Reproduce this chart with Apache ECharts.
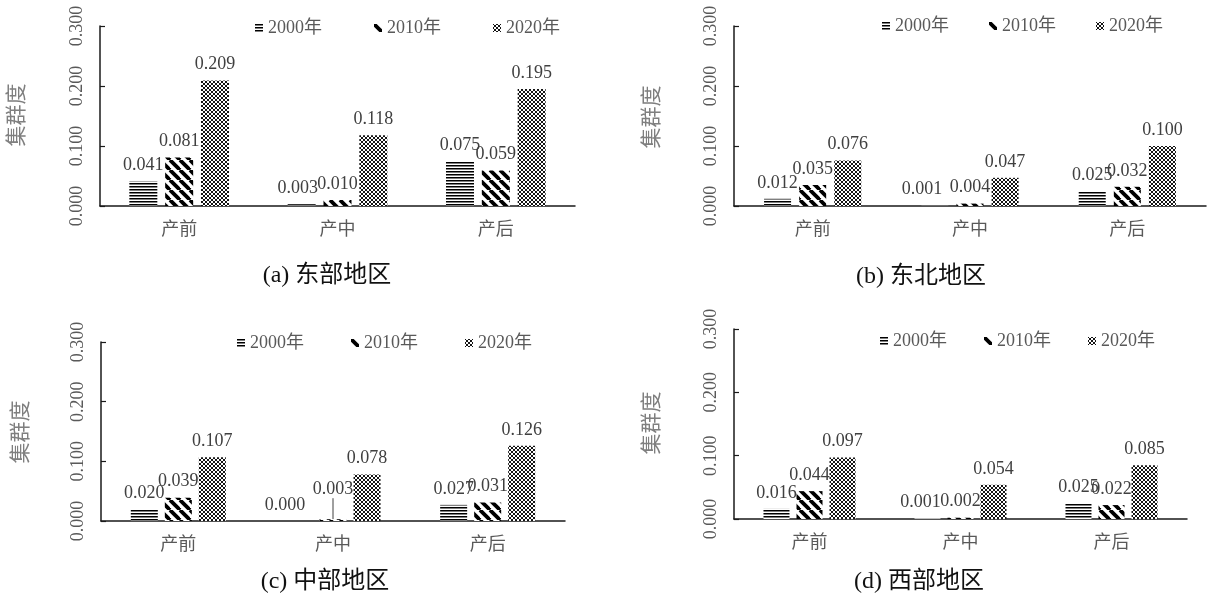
<!DOCTYPE html>
<html>
<head>
<meta charset="utf-8">
<script src="https://cdn.jsdelivr.net/npm/echarts@6/dist/echarts.min.js"></script>
<style>
  html, body { margin: 0; padding: 0; background: #fff; }
  #chart { width: 1207px; height: 598px; }
</style>
</head>
<body>
<div id="chart"></div>
<script>
// Categories, years and tick values
const categories = ['产前', '产中', '产后'];
const years = ['2000年', '2010年', '2020年'];
const yTicks = [0, 0.1, 0.2, 0.3];

// (a) 东部地区
const east2000 = [0.041, 0.003, 0.075];
const east2010 = [0.081, 0.010, 0.059];
const east2020 = [0.209, 0.118, 0.195];
// (b) 东北地区
const northeast2000 = [0.012, 0.001, 0.025];
const northeast2010 = [0.035, 0.004, 0.032];
const northeast2020 = [0.076, 0.047, 0.100];
// (c) 中部地区
const central2000 = [0.020, 0.000, 0.027];
const central2010 = [0.039, 0.003, 0.031];
const central2020 = [0.107, 0.078, 0.126];
// (d) 西部地区
const west2000 = [0.016, 0.001, 0.025];
const west2010 = [0.044, 0.002, 0.022];
const west2020 = [0.097, 0.054, 0.085];

const panelTitles = ['(a) 东部地区', '(b) 东北地区', '(c) 中部地区', '(d) 西部地区'];
const yTitle = '集群度';

const FONT = "'Liberation Serif','Times New Roman','Noto Sans CJK SC',serif";

// Fill patterns for the three years
function hLines() {
  const c = document.createElement('canvas');
  c.width = 4; c.height = 3;
  const g = c.getContext('2d');
  g.fillStyle = '#fff'; g.fillRect(0, 0, 4, 3);
  g.fillStyle = '#000'; g.fillRect(0, 0, 4, 1.5);
  return c;
}
function diagLines() {
  const s = 10;
  const c = document.createElement('canvas');
  c.width = s; c.height = s;
  const g = c.getContext('2d');
  g.fillStyle = '#fff'; g.fillRect(0, 0, s, s);
  g.strokeStyle = '#000'; g.lineWidth = 3.8;
  for (const k of [-s, 0, s]) {
    g.beginPath(); g.moveTo(k, 0); g.lineTo(k + s, s); g.stroke();
  }
  return c;
}
function dotLattice() {
  // white holes in a black diagonal mesh, drawn pixel by pixel
  const rows = ['BWWB', 'WBBW', 'WBBW', 'BWWB'];
  const c = document.createElement('canvas');
  c.width = 4; c.height = 4;
  const g = c.getContext('2d');
  const img = g.createImageData(4, 4);
  rows.forEach((row, r) => {
    for (let col = 0; col < 4; col++) {
      const v = row[col] === 'B' ? 20 : 255;
      const o = (r * 4 + col) * 4;
      img.data[o] = v; img.data[o + 1] = v; img.data[o + 2] = v; img.data[o + 3] = 255;
    }
  });
  g.putImageData(img, 0, 0);
  return c;
}
const fills = [
  { image: hLines(), repeat: 'repeat' },
  { image: diagLines(), repeat: 'repeat' },
  { image: dotLattice(), repeat: 'repeat' }
];

// Panel geometry
const panels = [
  { grid: { left: 100, top: 26, width: 475, height: 180 }, barWidth: 28, barGap: '28%',
    legend: { left: 255, top: 19, itemGap: 52 }, yTitle: [17, 115], title: [327, 276],
    data: [east2000, east2010, east2020], shift2000: -4 },
  { grid: { left: 734, top: 26, width: 472, height: 180 }, barWidth: 27, barGap: '30%',
    legend: { left: 882, top: 17, itemGap: 40 }, yTitle: [652, 117], title: [921, 277],
    data: [northeast2000, northeast2010, northeast2020], shift2000: -13 },
  { grid: { left: 101, top: 342, width: 464, height: 179 }, barWidth: 27, barGap: '26%',
    legend: { left: 237, top: 334, itemGap: 47 }, yTitle: [21, 432], title: [325, 582],
    data: [central2000, central2010, central2020], shift2000: -14 },
  { grid: { left: 734, top: 329, width: 453, height: 190 }, barWidth: 26, barGap: '27%',
    legend: { left: 880, top: 332, itemGap: 37 }, yTitle: [652, 423], title: [919, 582],
    data: [west2000, west2010, west2020], shift2000: -7 }
];

const grids = [], xAxes = [], yAxes = [], legends = [], series = [], graphics = [];

panels.forEach((p, i) => {
  grids.push(Object.assign({ containLabel: false }, p.grid));
  xAxes.push({
    type: 'category', gridIndex: i, data: categories,
    axisLine: { lineStyle: { color: '#1a1a1a', width: 1.5 } },
    axisTick: { show: false },
    axisLabel: { color: '#595959', fontSize: 18, fontFamily: FONT, margin: 15 }
  });
  yAxes.push({
    type: 'value', gridIndex: i, min: yTicks[0], max: yTicks[yTicks.length - 1], interval: 0.1,
    splitLine: { show: false },
    axisLine: { show: true, lineStyle: { color: '#1a1a1a', width: 1.5 } },
    axisTick: { show: true, inside: true, length: 5, lineStyle: { color: '#1a1a1a', width: 1.2 } },
    axisLabel: {
      rotate: 90, align: 'center', verticalAlign: 'bottom', margin: 14,
      color: '#595959', fontSize: 18, fontFamily: FONT,
      formatter: v => v.toFixed(3)
    }
  });
  legends.push({
    left: p.legend.left, top: p.legend.top, itemGap: p.legend.itemGap, padding: 0,
    itemWidth: 8, itemHeight: 8, itemTextGap: 3, icon: 'rect',
    data: years, selectedMode: false,
    textStyle: { color: '#595959', fontSize: 18, fontFamily: FONT }
  });
  p.data.forEach((vals, k) => {
    const s = {
      name: years[k], type: 'bar', xAxisIndex: i, yAxisIndex: i,
      barWidth: p.barWidth, barGap: p.barGap,
      itemStyle: { color: fills[k] },
      label: {
        show: true, position: 'top', distance: 7,
        color: '#404040', fontSize: 18, fontFamily: FONT,
        formatter: d => d.value.toFixed(3)
      },
      data: vals.slice()
    };
    // 产中 labels of the near-zero 2000 bars sit slightly to the left
    if (k === 0) {
      s.labelLayout = d => (d.dataIndex === 1 ? { dx: p.shift2000 } : {});
    }
    // 中部地区 产中 2010: label lifted with a leader line down to the bar
    if (i === 2 && k === 1) {
      s.data = vals.map((v, j) => (j === 1
        ? { value: v, labelLine: { show: true, lineStyle: { color: '#404040', width: 1 } } }
        : v));
      s.labelLayout = d => (d.dataIndex === 1 ? { dy: -14 } : {});
    }
    series.push(s);
  });
  graphics.push({
    type: 'text', x: p.yTitle[0], y: p.yTitle[1], rotation: Math.PI / 2,
    style: { text: yTitle, fill: '#7f7f7f', font: '21px ' + FONT, align: 'center', verticalAlign: 'middle' }
  });
  graphics.push({
    type: 'text', x: p.title[0], y: p.title[1],
    style: { text: panelTitles[i], fill: '#111', font: '24px ' + FONT, align: 'center', verticalAlign: 'middle' }
  });
});

const chart = echarts.init(document.getElementById('chart'), null, { renderer: 'canvas' });
chart.setOption({
  backgroundColor: '#fff',
  animation: false,
  grid: grids,
  xAxis: xAxes,
  yAxis: yAxes,
  legend: legends,
  series: series,
  graphic: graphics
});
</script>
</body>
</html>
